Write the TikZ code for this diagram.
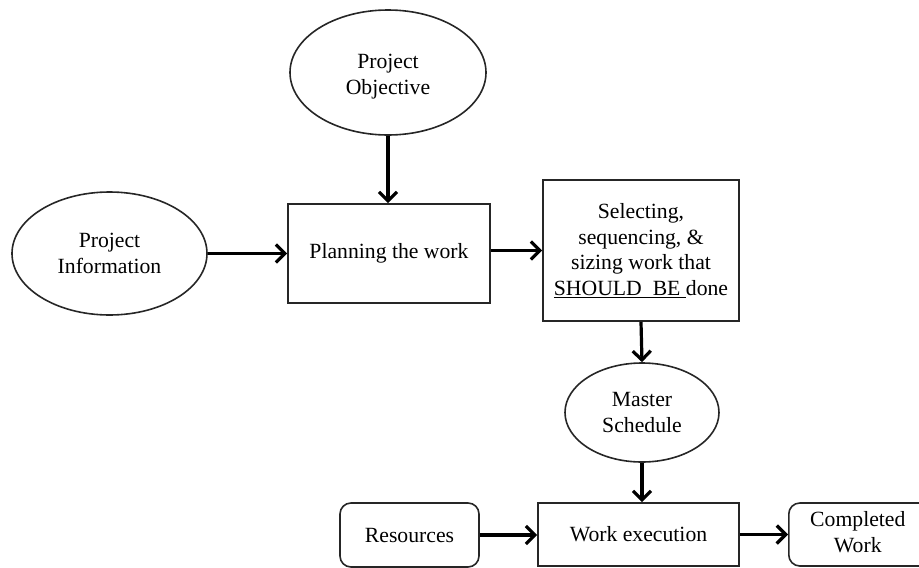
\documentclass[tikz,border=0pt]{standalone}
\usepackage{fontspec}
\setmainfont{Liberation Serif}
\usetikzlibrary{arrows.meta,shapes.geometric}
\newcommand{\twolines}[2]{\begin{tabular}{@{}c@{}}#1\\#2\end{tabular}}
\begin{document}
\begin{tikzpicture}[x=1pt,y=-1pt,
  every node/.style={font=\fontsize{21.7}{25.5}\selectfont, align=center, inner sep=0pt, line width=1.6pt, draw=black!85},
  oval/.style={ellipse},
  box/.style={rectangle},
  rbox/.style={rectangle, rounded corners=11pt},
  inner text/.style={draw=none},
  flow/.style={line width=3.2pt, -{Straight Barb[length=9pt,width=18pt,line width=3.2pt]}}]
\useasboundingbox (0,0) rectangle (919,568);
\setlength{\tabcolsep}{0pt}

% inputs and planning
\node[oval, minimum width=196pt, minimum height=125pt,
  label={[inner text, yshift=-4pt]center:{\twolines{Project}{Objective}}}] (po) at (388,72.5) {};
\node[oval, minimum width=195pt, minimum height=123pt] (pi) at (109.5,253.5) {Project\\Information};
\node[box, minimum width=202pt, minimum height=99pt] (plan) at (389,253.5) {Planning the work};
\node[box, minimum width=196pt, minimum height=141pt] (sel) at (641,250.5)
  {Selecting,\\sequencing, \&\\sizing work that\\\underline{SHOULD\ \ BE\ }done};

% schedule and execution
\node[oval, minimum width=154pt, minimum height=99pt] (ms) at (642,412.5) {Master\\Schedule};
\node[box, minimum width=201pt, minimum height=63pt] (we) at (638.5,534.5) {Work execution};
\node[rbox, minimum width=139pt, minimum height=64pt] (res) at (409.5,535) {Resources};
\node[rbox, minimum width=150pt, minimum height=63pt, anchor=west] (cw) at (788,534.5) {\hspace*{-12pt}\twolines{Completed}{Work}};

% connectors
\draw[flow] (po.south) -- (po.south |- plan.north);
\draw[flow] (pi.east) -- (pi.east -| plan.west);
\draw[flow] (plan.east |- sel.west) -- (sel.west);
\draw[flow] (sel.south) -- (ms.north);
\draw[flow] (ms.south) -- (ms.south |- we.north);
\draw[flow] (res.east) -- (res.east -| we.west);
\draw[flow] (we.east) -- (we.east -| cw.west);
\end{tikzpicture}
\end{document}
